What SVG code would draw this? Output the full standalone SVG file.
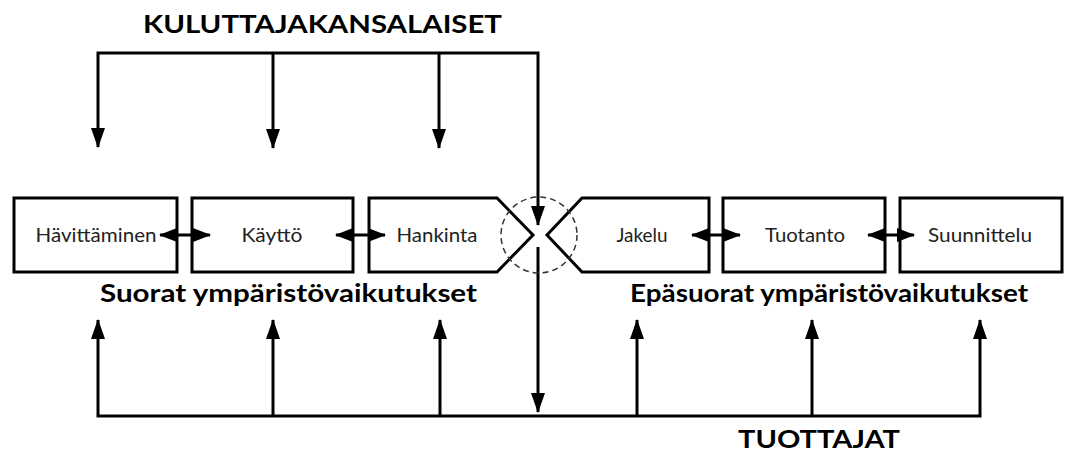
<svg xmlns="http://www.w3.org/2000/svg" width="1068" height="459" viewBox="0 0 1068 459">
<defs>
<style>
.box{fill:#fff;stroke:#000;stroke-width:3;stroke-linejoin:miter}
.ln{fill:none;stroke:#000;stroke-width:3}
.lbl{font-family:Lato,"Liberation Sans",sans-serif;font-size:19px;fill:#222;text-anchor:middle}
.hd{font-family:Lato,"Liberation Sans",sans-serif;font-size:24px;font-weight:bold;fill:#000}
.dash{fill:none;stroke:#333;stroke-width:1.5;stroke-dasharray:6 4}
</style>
<marker id="ah" markerUnits="userSpaceOnUse" markerWidth="20" markerHeight="14" refX="19" refY="7" orient="auto-start-reverse" viewBox="0 0 20 14">
<path d="M0,0 L20,7 L0,14 z" fill="#000"/>
</marker>
<marker id="hh" markerUnits="userSpaceOnUse" markerWidth="18" markerHeight="14" refX="17" refY="7" orient="auto-start-reverse" viewBox="0 0 18 14">
<path d="M0,0 L18,7 L0,14 z" fill="#000"/>
</marker>
</defs>
<rect width="1068" height="459" fill="#fff"/>

<g id="connectors">
<polyline class="ln" points="98,147 98,53 538,53 538,225" marker-start="url(#ah)" marker-end="url(#ah)"/>
<line class="ln" x1="273" y1="53" x2="273" y2="148" marker-end="url(#ah)"/>
<line class="ln" x1="439" y1="53" x2="439" y2="148" marker-end="url(#ah)"/>
<line class="ln" x1="538" y1="247" x2="538" y2="412" marker-end="url(#ah)"/>
<polyline class="ln" points="98,320 98,416 980,416 980,320" marker-start="url(#ah)" marker-end="url(#ah)"/>
<line class="ln" x1="273" y1="416" x2="273" y2="320" marker-end="url(#ah)"/>
<line class="ln" x1="440" y1="416" x2="440" y2="320" marker-end="url(#ah)"/>
<line class="ln" x1="637" y1="416" x2="637" y2="320" marker-end="url(#ah)"/>
<line class="ln" x1="812" y1="416" x2="812" y2="320" marker-end="url(#ah)"/>
</g>

<g id="n-havittaminen">
<rect class="box" x="14" y="198" width="163" height="74"/>
<text class="lbl" x="96" y="242" textLength="121" lengthAdjust="spacingAndGlyphs">Hävittäminen</text>
</g>
<g id="n-kaytto">
<rect class="box" x="192" y="198" width="161" height="74"/>
<text class="lbl" x="272" y="242" textLength="61" lengthAdjust="spacingAndGlyphs">Käyttö</text>
</g>
<g id="n-hankinta">
<polygon class="box" points="369,198 497,198 533,235 497,272 369,272"/>
<text class="lbl" x="437" y="242" textLength="81" lengthAdjust="spacingAndGlyphs">Hankinta</text>
</g>
<g id="n-jakelu">
<polygon class="box" points="709,198 582,198 547,235 582,272 709,272"/>
<text class="lbl" x="642" y="242" textLength="51" lengthAdjust="spacingAndGlyphs">Jakelu</text>
</g>
<g id="n-tuotanto">
<rect class="box" x="723" y="198" width="162" height="74"/>
<text class="lbl" x="805" y="242" textLength="80" lengthAdjust="spacingAndGlyphs">Tuotanto</text>
</g>
<g id="n-suunnittelu">
<rect class="box" x="900" y="198" width="162" height="74"/>
<text class="lbl" x="980" y="242" textLength="104" lengthAdjust="spacingAndGlyphs">Suunnittelu</text>
</g>

<g id="crossing">
<circle class="dash" cx="539" cy="235" r="38"/>
</g>

<g id="box-arrows">
<line class="ln" x1="160" y1="235" x2="210" y2="235" marker-start="url(#hh)" marker-end="url(#hh)"/>
<line class="ln" x1="336" y1="235" x2="385" y2="235" marker-start="url(#hh)" marker-end="url(#hh)"/>
<line class="ln" x1="692" y1="235" x2="740" y2="235" marker-start="url(#hh)" marker-end="url(#hh)"/>
<line class="ln" x1="868" y1="235" x2="914" y2="235" marker-start="url(#hh)" marker-end="url(#hh)"/>
</g>

<g id="labels">
<text class="hd" x="143" y="33" textLength="359" lengthAdjust="spacingAndGlyphs">KULUTTAJAKANSALAISET</text>
<text class="hd" x="100" y="302" textLength="377" lengthAdjust="spacingAndGlyphs">Suorat ympäristövaikutukset</text>
<text class="hd" x="630" y="302" textLength="398" lengthAdjust="spacingAndGlyphs">Epäsuorat ympäristövaikutukset</text>
<text class="hd" x="738" y="448" textLength="162" lengthAdjust="spacingAndGlyphs">TUOTTAJAT</text>
</g>
</svg>
